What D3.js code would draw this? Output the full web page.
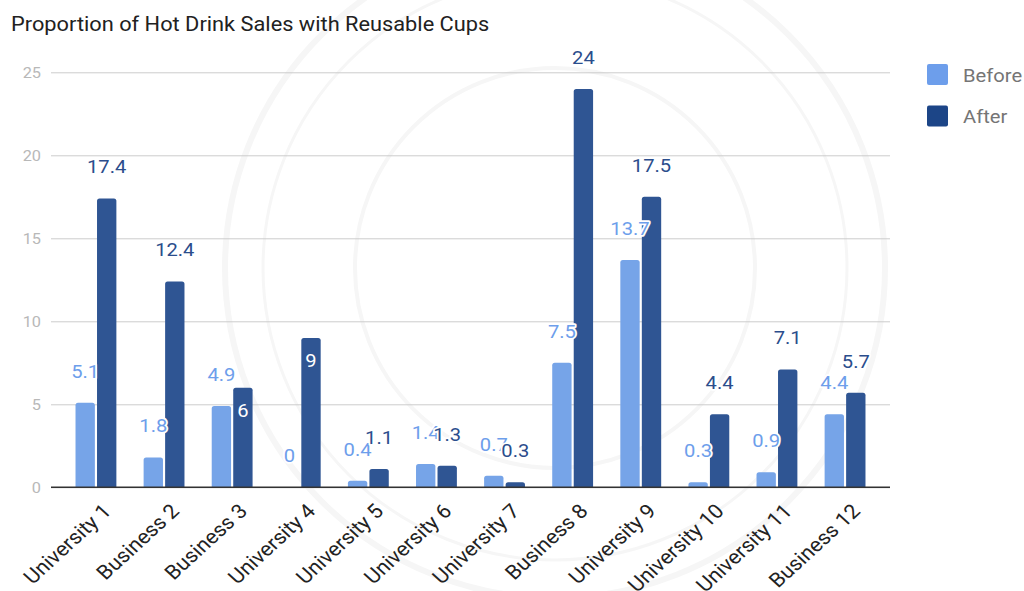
<!DOCTYPE html>
<html>
<head>
<meta charset="utf-8">
<script src="https://cdn.jsdelivr.net/npm/d3@7/dist/d3.min.js"></script>
<style>
  html, body { margin: 0; padding: 0; background: #fff; }
  svg { display: block; font-family: Roboto, "Noto Sans", sans-serif; }
</style>
</head>
<body>
<svg id="chart" width="1024" height="591"></svg>
<script>
// Share of hot drink sales served in reusable cups, before and after the scheme
const categories = ["University 1", "Business 2", "Business 3", "University 4", "University 5", "University 6",
                    "University 7", "Business 8", "University 9", "University 10", "University 11", "Business 12"];
const beforeValues = [5.1, 1.8, 4.9, 0, 0.4, 1.4, 0.7, 7.5, 13.7, 0.3, 0.9, 4.4];
const afterValues = [17.4, 12.4, 6, 9, 1.1, 1.3, 0.3, 24, 17.5, 4.4, 7.1, 5.7];
const seriesNames = ["Before", "After"];
const yTicks = [0, 5, 10, 15, 20, 25];
// After-labels that sit inside the top of their bar
const insideLabels = ["Business 3", "University 4"];

const barColors = { Before: "#76a4e8", After: "#2f5593" };
const legendColors = { Before: "#6d9eeb", After: "#1c4587" };
const labelColors = { Before: "#6d9eeb", After: "#2b4d8c" };

// the whole chart is rendered slightly wide: text is stretched horizontally
const SX = 1.09;

const svg = d3.select("#chart");
const plot = { left: 51, right: 890, top: 72.3, bottom: 487.3 };

// faint circular emblem in the background
const seal = svg.append("g").attr("fill", "none").attr("stroke", "#f6f6f6");
seal.append("circle").attr("cx", 555).attr("cy", 268).attr("r", 330).attr("stroke-width", 6);
seal.append("circle").attr("cx", 555).attr("cy", 268).attr("r", 292).attr("stroke-width", 3);
seal.append("circle").attr("cx", 555).attr("cy", 268).attr("r", 200).attr("stroke-width", 4);

const x0 = d3.scaleBand().domain(categories).range([plot.left, plot.right])
  .paddingInner(0.4).paddingOuter(0.36);
const x1 = d3.scaleBand().domain(seriesNames).range([0, x0.bandwidth()]).paddingInner(0.1);
const y = d3.scaleLinear().domain([0, 25]).range([plot.bottom, plot.top]);

function stretchedText(sel, x, yy) {
  return sel.append("text").attr("transform", `translate(${x},${yy}) scale(${SX},1)`);
}

// title
stretchedText(svg, 11, 31)
  .attr("font-size", 20).attr("fill", "#212121")
  .text("Proportion of Hot Drink Sales with Reusable Cups");

// gridlines and y labels
const yAxis = d3.axisLeft(y).tickValues(yTicks).tickSize(-(plot.right - plot.left)).tickPadding(10);
const gy = svg.append("g").attr("transform", `translate(${plot.left},0)`).call(yAxis);
gy.select(".domain").remove();
gy.selectAll(".tick line").attr("stroke", "#cccccc").attr("stroke-width", 1);
gy.selectAll(".tick text").attr("font-size", 15).attr("fill", "#b8b8b8")
  .attr("font-family", "Roboto, sans-serif")
  .attr("x", 0).attr("transform", `translate(-10,0) scale(${SX},1)`);

// bars with rounded tops
const rows = categories.map((c, i) => ({ cat: c, vals: [
  { key: "Before", value: beforeValues[i] },
  { key: "After", value: afterValues[i] }
]}));

function topRounded(x, yTop, w, h, r) {
  if (h <= 0) return "";
  r = Math.min(r, h, w / 2);
  return `M${x},${yTop + h}V${yTop + r}Q${x},${yTop} ${x + r},${yTop}H${x + w - r}` +
         `Q${x + w},${yTop} ${x + w},${yTop + r}V${yTop + h}Z`;
}

const groups = svg.append("g").selectAll("g").data(rows).join("g")
  .attr("transform", d => `translate(${x0(d.cat)},0)`);
groups.selectAll("path").data(d => d.vals).join("path")
  .attr("fill", d => barColors[d.key])
  .attr("d", d => topRounded(x1(d.key), y(d.value), x1.bandwidth(), y(0) - y(d.value), 2.5));

// baseline
svg.append("line").attr("x1", plot.left).attr("x2", plot.right)
  .attr("y1", y(0)).attr("y2", y(0)).attr("stroke", "#333").attr("stroke-width", 1.5);

// value labels: Before first, After drawn over them
seriesNames.forEach(key => {
  const g = svg.append("g");
  rows.forEach(d => {
    const v = d.vals.find(e => e.key === key).value;
    const inside = key === "After" && insideLabels.includes(d.cat);
    const cx = x0(d.cat) + x1(key) + x1.bandwidth() / 2;
    stretchedText(g, cx, inside ? y(v) + 29 : y(v) - 25)
      .attr("text-anchor", "middle")
      .attr("font-size", 18.5)
      .attr("fill", inside ? "#ffffff" : labelColors[key])
      .attr("stroke", inside ? "none" : "#ffffff")
      .attr("stroke-width", 3.5)
      .attr("stroke-linejoin", "round")
      .attr("paint-order", "stroke")
      .text(v);
  });
});

// category labels
const gx = svg.append("g").attr("transform", `translate(0,${y(0)})`)
  .call(d3.axisBottom(x0).tickSize(0).tickPadding(0));
gx.select(".domain").remove();
gx.selectAll(".tick text")
  .attr("font-size", 20).attr("fill", "#222").attr("font-family", "Roboto, sans-serif")
  .attr("text-anchor", "end")
  .attr("transform", `translate(11,20) scale(${SX},1) rotate(-45)`)
  .attr("dy", "0.35em").attr("y", 0);

// legend
const legend = svg.append("g");
seriesNames.forEach((k, i) => {
  const ly = 64 + i * 41.5;
  legend.append("rect").attr("x", 927).attr("y", ly).attr("width", 21).attr("height", 21)
    .attr("rx", 2).attr("fill", legendColors[k]);
  stretchedText(legend, 963, ly + 17.5)
    .attr("font-size", 18.5).attr("fill", "#757575").text(k);
});
</script>
</body>
</html>
